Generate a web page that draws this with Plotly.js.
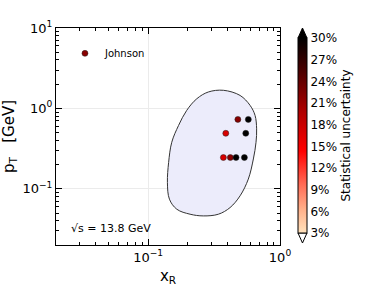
<!DOCTYPE html>
<html>
<head>
<meta charset="utf-8">
<script src="https://cdn.plot.ly/plotly-3.0.1.min.js"></script>
<style>html,body{margin:0;padding:0;background:#fff;}#plot{width:374px;height:288px;}</style>
</head>
<body>
<div id="plot"></div>
<script>
// Johnson data points (x_R, p_T, statistical uncertainty %)
const xR = [0.42, 0.479, 0.575, 0.388, 0.55, 0.372, 0.464, 0.537];
const pT = [0.245, 0.73, 0.73, 0.49, 0.49, 0.245, 0.245, 0.245];
const unc = [22, 22, 31, 17, 31, 17, 31, 31];

// Acceptance contour (closed curve)
const contourX = [0.286, 0.372, 0.498, 0.593, 0.647, 0.665, 0.658, 0.628, 0.575, 0.498, 0.418, 0.341, 0.262, 0.208, 0.165, 0.145, 0.140, 0.143, 0.151, 0.170, 0.196, 0.234, 0.286];
const contourY = [1.60, 1.68, 1.45, 1.09, 0.818, 0.557, 0.379, 0.235, 0.132, 0.0818, 0.0584, 0.0483, 0.046, 0.0483, 0.0557, 0.0743, 0.120, 0.213, 0.379, 0.613, 0.944, 1.32, 1.60];

const cbTicks = [3, 6, 9, 12, 15, 18, 21, 24, 27, 30];
const seriesName = "Johnson";
const energyLabel = "√s = 13.8 GeV";

function minorLog(lo, hi) {
  const v = [];
  for (let e = lo; e < hi; e++) for (let d = 2; d <= 9; d++) v.push(d * Math.pow(10, e));
  return v;
}

const colorscale = [
  [0.0, '#ffe2bc'], [0.12, '#ffb08a'], [0.25, '#ff6a55'], [0.42, '#ff0000'],
  [0.62, '#b00000'], [0.82, '#500000'], [1.0, '#000000']
];

const traces = [
  {
    x: contourX, y: contourY, type: 'scatter', mode: 'lines',
    line: {color: '#333', width: 1, shape: 'spline', smoothing: 1},
    fill: 'toself', fillcolor: '#ececfb', showlegend: false, hoverinfo: 'skip'
  },
  {
    x: xR, y: pT, type: 'scatter', mode: 'markers', name: seriesName,
    marker: {
      size: 6, color: unc, cmin: 3, cmax: 30, colorscale: colorscale,
      line: {color: '#222', width: 0.5},
      showscale: true,
      colorbar: {
        x: 1.0804, xanchor: 'left', xpad: 0, xref: 'paper',
        y: 0.0553, yanchor: 'bottom', ypad: 0, yref: 'paper',
        len: 195, lenmode: 'pixels', thickness: 9,
        outlinecolor: '#000', outlinewidth: 1,
        tickvals: cbTicks, ticktext: cbTicks.map(t => t + '%'),
        ticks: '', ticklabelpad: 2,
        tickfont: {family: 'DejaVu Sans', size: 12, color: '#000'},
        title: {text: 'Statistical uncertainty', side: 'right', font: {family: 'DejaVu Sans', size: 12, color: '#000'}}
      }
    }
  }
];

const axisCommon = {
  type: 'log', showline: true, linecolor: '#000', linewidth: 1, mirror: 'allticks',
  ticks: 'inside', ticklen: 6, tickcolor: '#000', tickwidth: 1,
  showgrid: true, gridcolor: '#ebebeb', gridwidth: 1, zeroline: false,
  tickfont: {family: 'DejaVu Sans', size: 13, color: '#000'}
};

const layout = {
  width: 374, height: 288,
  margin: {l: 56, r: 94, t: 28, b: 43},
  paper_bgcolor: '#fff', plot_bgcolor: '#fff',
  font: {family: 'DejaVu Sans', color: '#000'},
  xaxis: Object.assign({}, axisCommon, {
    range: [Math.log10(0.02), 0],
    tickvals: [0.1, 1], ticktext: ['10<sup>−1</sup>', '10<sup>0</sup>'],
    minor: {ticks: 'inside', ticklen: 3, tickcolor: '#000', tickvals: minorLog(-2, 0), showgrid: false},
    title: {text: 'x<sub>R</sub>', font: {size: 15}, standoff: 6}
  }),
  yaxis: Object.assign({}, axisCommon, {
    range: [Math.log10(0.02), 1],
    tickvals: [0.1, 1, 10], ticktext: ['10<sup>−1</sup>', '10<sup>0</sup>', '10<sup>1</sup>'],
    minor: {ticks: 'inside', ticklen: 3, tickcolor: '#000', tickvals: minorLog(-2, 1), showgrid: false},
    title: {text: 'p<sub>T</sub>   [GeV]', font: {size: 15}, standoff: 4}
  }),
  showlegend: true,
  legend: {x: 0.04, y: 0.95, xanchor: 'left', yanchor: 'top', bgcolor: 'rgba(0,0,0,0)',
           font: {family: 'DejaVu Sans', size: 10, color: '#000'}},
  annotations: [{
    text: energyLabel, xref: 'paper', yref: 'paper', x: 0.06, y: 0.078,
    xanchor: 'left', yanchor: 'middle', showarrow: false,
    font: {family: 'DejaVu Sans', size: 11, color: '#000'}
  }],
  shapes: [
    {type: 'path', xref: 'paper', yref: 'paper', path: 'M1.0804,0.9539 L1.1205,0.9539 L1.1004,1.0 Z', fillcolor: '#000', line: {color: '#000', width: 1}},
    {type: 'path', xref: 'paper', yref: 'paper', path: 'M1.0804,0.0553 L1.1205,0.0553 L1.1004,0.0092 Z', fillcolor: '#fff', line: {color: '#000', width: 1}}
  ]
};

Plotly.newPlot('plot', traces, layout, {displayModeBar: false, staticPlot: true});
</script>
</body>
</html>
